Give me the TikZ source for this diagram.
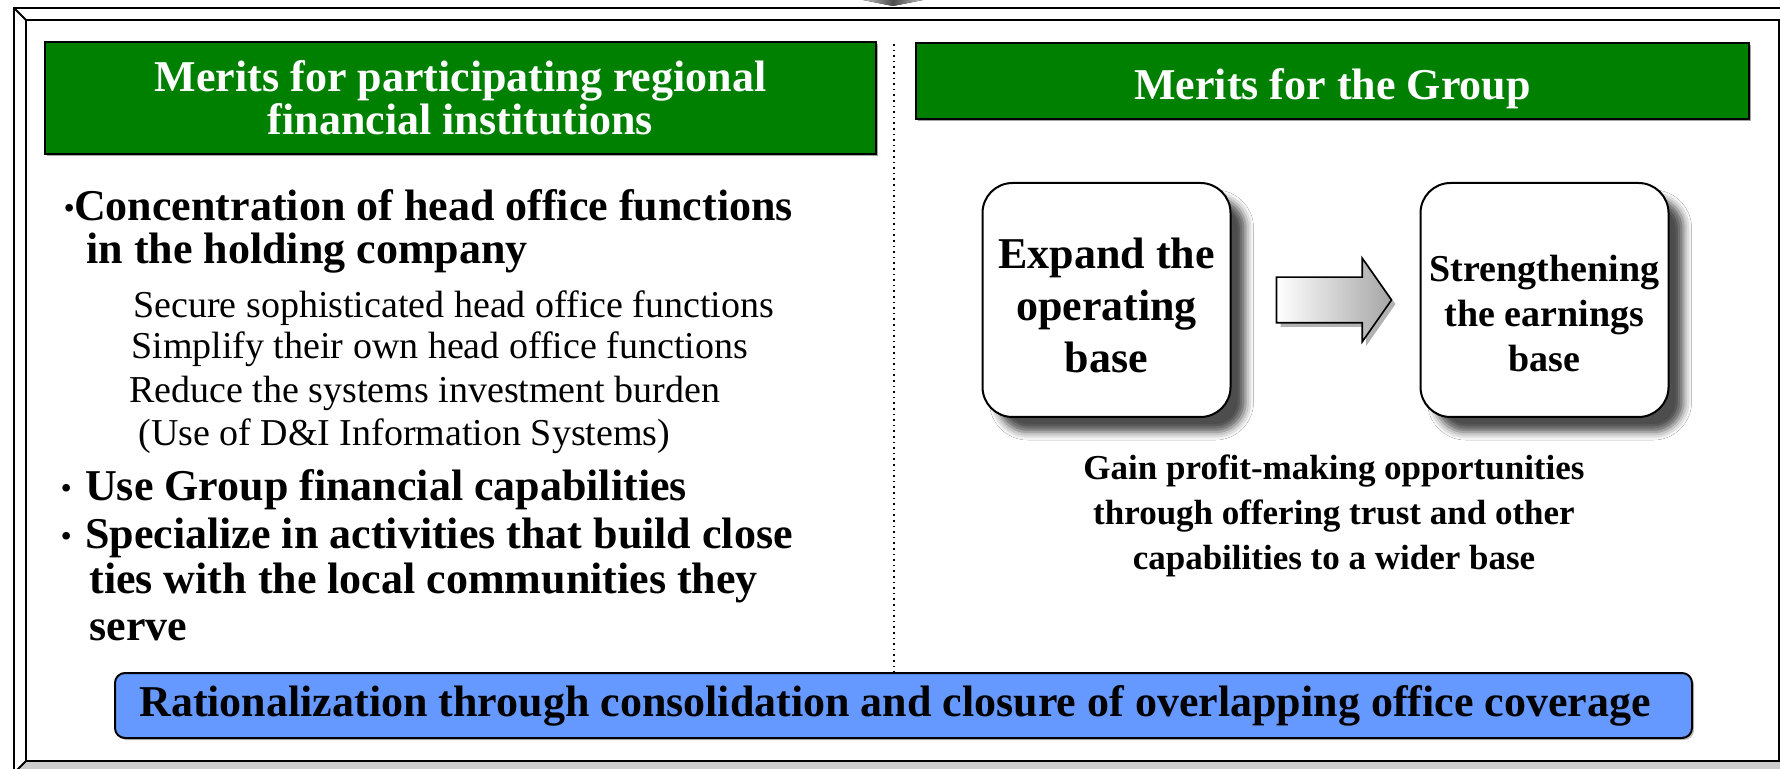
\documentclass[tikz,border=0pt]{standalone}
\usepackage{fontspec}
\setmainfont{Liberation Serif}
\usepackage{tikz}
\usetikzlibrary{shapes.arrows,shadows,shadows.blur}
\definecolor{hdgreen}{RGB}{0,128,0}
\definecolor{barblue}{RGB}{102,153,255}
\newcommand{\smbul}{{\fontsize{14}{14}\selectfont\raisebox{1.5pt}{\textbullet}}}
\tikzset{
  bevel/.style={line width=1pt, black},
  hdr/.style={draw=black, line width=1pt, fill=hdgreen, text=white, align=center, inner sep=0pt,
    font=\fontsize{22}{20}\selectfont\bfseries,
    drop shadow={shadow xshift=1pt, shadow yshift=-1pt, fill=black!60, opacity=.6}},
  item/.style={anchor=base west, inner sep=0pt, font=\fontsize{22}{22}\selectfont\bfseries},
  subitem/.style={anchor=base west, inner sep=0pt, font=\fontsize{19}{19}\selectfont},
  rbox/.style={draw=black, line width=1pt, fill=white, rounded corners=15pt,
    minimum width=124pt, minimum height=117pt,
    blur shadow={shadow xshift=7.5pt, shadow yshift=-7.5pt, shadow blur radius=4pt, shadow opacity=70}},
  boxtxt/.style={align=center, inner sep=0pt}
}
\begin{document}
\begin{tikzpicture}[x=0.5pt, y=-0.5pt, >=stealth]
\useasboundingbox (0,0) rectangle (1780,769);

% bevelled frame
\fill[white] (14,8) rectangle (1795,775);
\fill[gray!40] (14,773) -- (26,761) -- (1779,761) -- (1795,775) -- (14,775) -- cycle;
\draw[bevel] (1795,8) -- (14,8) -- (14,775);
\draw[bevel] (14,8) -- (26,20);
\draw[bevel] (26,761) -- (14,773);
\draw[bevel] (26,20) rectangle (1779,761);
\fill[left color=gray!50, right color=gray!50, middle color=black!70] (863,0) -- (923,0) -- (893,6) -- cycle;

% headers
\node[hdr, minimum width=415.5pt, minimum height=56pt] (hl) at (460.5,98) {Merits for participating regional\\financial institutions};
\node[hdr, minimum width=416.5pt, minimum height=38pt, text height=18.5pt, text depth=0pt] (hr) at (1332.5,81) {Merits for the Group};

\coordinate (dvtop) at (894,44);

% left column
\node[item] (c1) at (64,221) {\smbul Concentration of head office functions};
\node[item] (c1b) at (86,264) {in the holding company};
\node[subitem] (s1) at (133,318) {Secure sophisticated head office functions};
\node[subitem] (s2) at (131,359) {Simplify their own head office functions};
\node[subitem] (s3) at (129,402) {Reduce the systems investment burden};
\node[subitem] (s4) at (138,445) {(Use of D\&I Information Systems)};
\node[item] (c2) at (61,500) {\smbul\hspace{7pt}Use Group financial capabilities};
\node[item] (c3) at (61,548) {\smbul\hspace{7pt}Specialize in activities that build close};
\node[item] (c3b) at (89,593) {ties with the local communities they};
\node[item] (c3c) at (89,640) {serve};

% right column
\node[rbox] (exp) at (1106.5,300) {};
\node[rbox] (str) at (1544.5,300) {};
\node[boxtxt, font=\fontsize{22}{26}\selectfont\bfseries] (expt) at ([yshift=-2.5pt]exp.center) {Expand the\\operating\\base};
\node[boxtxt, font=\fontsize{19}{22.5}\selectfont\bfseries] (strt) at ([yshift=-7pt]str.center) {Strengthening\\the earnings\\base};
\node[single arrow, draw=black, line width=0.8pt, left color=white, right color=gray!70,
  minimum height=57.5pt, single arrow head extend=9.5pt,
  single arrow tip angle=110, inner sep=0pt,
  drop shadow={shadow xshift=2pt, shadow yshift=-2pt, fill=gray!60, opacity=1}] (arr) at (1326,300) {\rule{0pt}{22pt}};
\node[font=\fontsize{17.5}{22.5}\selectfont\bfseries, align=center] (gain) at (1334,516)
  {Gain profit-making opportunities\\through offering trust and other\\capabilities to a wider base};

% bottom bar
\node[draw=black, line width=1pt, fill=barblue, rounded corners=5pt, minimum width=788.5pt, minimum height=32.5pt,
  font=\fontsize{22}{22}\selectfont\bfseries,
  drop shadow={shadow xshift=1pt, shadow yshift=-1pt, fill=black!50, opacity=.5}] (bar) at (903.5,705.5)
  {Rationalization through consolidation and closure of overlapping office coverage\kern8.5pt};

\draw[dotted, line width=0.8pt] (dvtop) -- (dvtop |- bar.north);
\end{tikzpicture}
\end{document}
